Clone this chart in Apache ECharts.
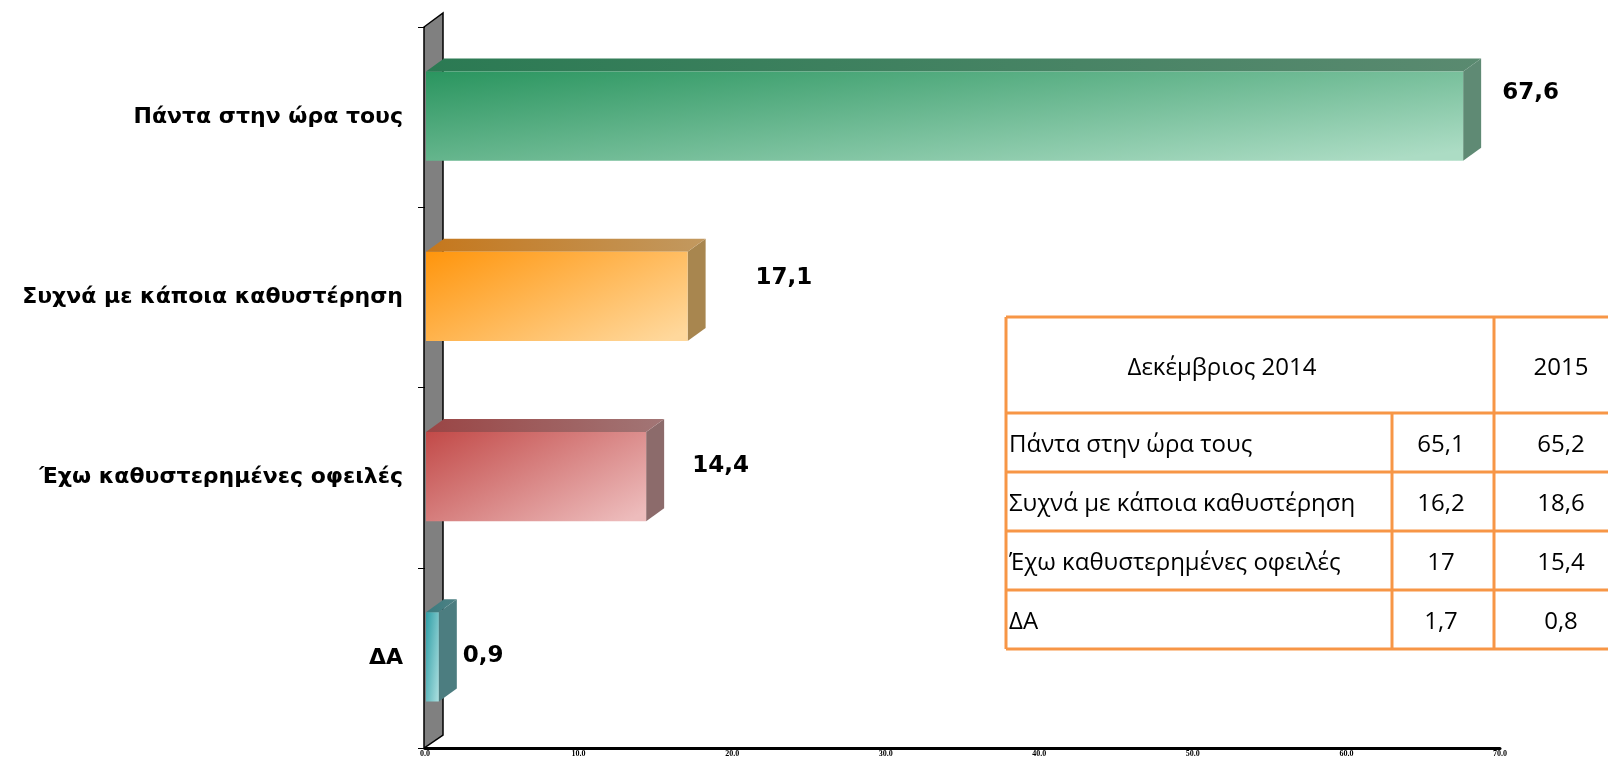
<!DOCTYPE html>
<html>
<head>
<meta charset="utf-8">
<script src="https://cdn.jsdelivr.net/npm/echarts@6/dist/echarts.min.js"></script>
<style>html,body{margin:0;padding:0;background:#fff;}#c{width:1608px;height:760px;}</style>
</head>
<body>
<div id="c"></div>
<script>
// ---- data ----
const categories = ['Πάντα στην ώρα τους', 'Συχνά με κάποια καθυστέρηση', 'Έχω καθυστερημένες οφειλές', 'ΔΑ'];
const values = [67.6, 17.1, 14.4, 0.9];
const xMin = 0, xMax = 70, xStep = 10;
const tableHeader = ['Δεκέμβριος 2014', '2015'];
const tableRowLabels = ['Πάντα στην ώρα τους', 'Συχνά με κάποια καθυστέρηση', 'Έχω καθυστερημένες οφειλές', 'ΔΑ'];
const dec2014 = [65.1, 16.2, 17, 1.7];
const year2015 = [65.2, 18.6, 15.4, 0.8];

// ---- styling ----
const depth = { dx: 18, dy: 13 };
const barColors = [
  { f0: '#2a955f', f1: '#acdcc4', t0: '#2b7a53', t1: '#5a8a70', s: '#5f8a74' },
  { f0: '#ff950c', f1: '#ffd89c', t0: '#c5771c', t1: '#c29960', s: '#a8864f' },
  { f0: '#c24a48', f1: '#edbcbc', t0: '#9a4545', t1: '#a27676', s: '#8c6b6b' },
  { f0: '#2f9ea6', f1: '#a6dcdd', t0: '#3a7b7f', t1: '#4f8184', s: '#4c7d80' }
];
const labelDx = [21, 50, 28, 6];
const labelDy = [-24, -19, -12, -2];
const fmt = v => String(v).replace('.', ',');

const chart = echarts.init(document.getElementById('c'), null, { renderer: 'canvas' });

function renderWall(params, api) {
  const cs = params.coordSys;
  const x = cs.x - 1, y = cs.y, h = cs.height;
  return {
    type: 'polygon',
    shape: { points: [[x, y], [x + depth.dx + 1, y - depth.dy - 1], [x + depth.dx + 1, y + h - depth.dy], [x, y + h]] },
    style: { fill: '#808080', stroke: '#000', lineWidth: 1.5 },
    z2: 0
  };
}

// diagonal gradient: colour fraction 0.6 at top-right, 0.45 at bottom-left, ~1 at bottom-right
function frontGradient(W, H, c0, c1) {
  const S = 1 / (0.36 / (W * W) + 0.2025 / (H * H));
  const x2 = 0.6 * S / (W * W), y2 = 0.45 * S / (H * H);
  return new echarts.graphic.LinearGradient(0, 0, x2, y2, [{ offset: 0, color: c0 }, { offset: 1, color: c1 }]);
}

function renderBar(params, api) {
  const idx = api.value(1);
  const val = api.value(0);
  const p0 = api.coord([0, idx]);
  const p1 = api.coord([val, idx]);
  const band = api.size([0, 1])[1];
  const h = band * 0.495;
  const x0 = p0[0] + 1, x1 = p1[0];
  const yT = p0[1] - h / 2 - 1, yB = yT + h;
  const c = barColors[idx];
  const dx = depth.dx, dy = depth.dy;
  return {
    type: 'group',
    children: [
      { type: 'polygon', shape: { points: [[x1, yT], [x1 + dx, yT - dy], [x1 + dx, yB - dy], [x1, yB]] },
        style: { fill: c.s } },
      { type: 'polygon', shape: { points: [[x0, yT], [x0 + dx, yT - dy], [x1 + dx, yT - dy], [x1, yT]] },
        style: { fill: new echarts.graphic.LinearGradient(0, 0, 1, 0, [{ offset: 0, color: c.t0 }, { offset: 1, color: c.t1 }]) } },
      { type: 'rect', shape: { x: x0, y: yT, width: x1 - x0, height: h },
        style: { fill: frontGradient(x1 - x0, h, c.f0, c.f1) } },
      { type: 'text', x: x1 + dx + labelDx[idx], y: p0[1] + labelDy[idx],
        style: { text: fmt(val), fill: '#000', font: 'bold 23px "DejaVu Sans"', align: 'left', verticalAlign: 'middle' } }
    ]
  };
}

// table graphics
const tb = { left: 1006, top: 317, headerBottom: 413, rowH: 59, col1: 1392, col2: 1494, right: 1630 };
const lineStyle = { stroke: '#f79646', lineWidth: 3 };
const tableEls = [];
const rowYs = [tb.top, tb.headerBottom];
for (let i = 1; i <= tableRowLabels.length; i++) rowYs.push(tb.headerBottom + i * tb.rowH);
const bottom = rowYs[rowYs.length - 1];
rowYs.forEach(y => tableEls.push({ type: 'line', shape: { x1: tb.left, y1: y, x2: tb.right, y2: y }, style: lineStyle }));
tableEls.push({ type: 'line', shape: { x1: tb.left, y1: tb.top, x2: tb.left, y2: bottom }, style: lineStyle });
tableEls.push({ type: 'line', shape: { x1: tb.col2, y1: tb.top, x2: tb.col2, y2: bottom }, style: lineStyle });
tableEls.push({ type: 'line', shape: { x1: tb.col1, y1: tb.headerBottom, x2: tb.col1, y2: bottom }, style: lineStyle });
const tFont = '24px "Open Sans"';
const hy = (tb.top + tb.headerBottom) / 2 + 3;
tableEls.push({ type: 'text', x: 1222, y: hy, style: { text: tableHeader[0], font: tFont, fill: '#000', align: 'center', verticalAlign: 'middle' } });
tableEls.push({ type: 'text', x: 1561, y: hy, style: { text: tableHeader[1], font: tFont, fill: '#000', align: 'center', verticalAlign: 'middle' } });
tableRowLabels.forEach((lab, i) => {
  const yc = tb.headerBottom + i * tb.rowH + tb.rowH / 2 + 3;
  tableEls.push({ type: 'text', x: tb.left + 3, y: yc, style: { text: lab, font: tFont, fill: '#000', align: 'left', verticalAlign: 'middle' } });
  tableEls.push({ type: 'text', x: (tb.col1 + tb.col2) / 2 - 2, y: yc, style: { text: fmt(dec2014[i]), font: tFont, fill: '#000', align: 'center', verticalAlign: 'middle' } });
  tableEls.push({ type: 'text', x: 1561, y: yc, style: { text: fmt(year2015[i]), font: tFont, fill: '#000', align: 'center', verticalAlign: 'middle' } });
});

chart.setOption({
  backgroundColor: '#fff',
  animation: false,
  grid: { left: 425, right: 108, top: 27, bottom: 12, containLabel: false },
  xAxis: {
    type: 'value', min: xMin, max: xMax, interval: xStep,
    axisLine: { show: true, lineStyle: { color: '#000', width: 3 } },
    axisTick: { show: false },
    splitLine: { show: false },
    axisLabel: { formatter: v => v.toFixed(1), fontFamily: 'Liberation Serif', fontWeight: 'bold', fontSize: 8, color: '#000', margin: 2 }
  },
  yAxis: {
    type: 'category', data: categories, inverse: true,
    axisLine: { show: false },
    axisTick: { show: true, length: 7, lineStyle: { color: '#000', width: 1 } },
    splitLine: { show: false },
    axisLabel: { fontFamily: 'DejaVu Sans', fontWeight: 'bold', fontSize: 22, color: '#000', margin: 22 },
    z: 5
  },
  series: [
    { type: 'custom', renderItem: renderWall, data: [[0, 0]], silent: true, z: 1 },
    { type: 'custom', renderItem: renderBar, data: values.map((v, i) => [v, i]), encode: { x: 0, y: 1 }, silent: true, z: 3 }
  ],
  graphic: { elements: tableEls }
});
</script>
</body>
</html>
